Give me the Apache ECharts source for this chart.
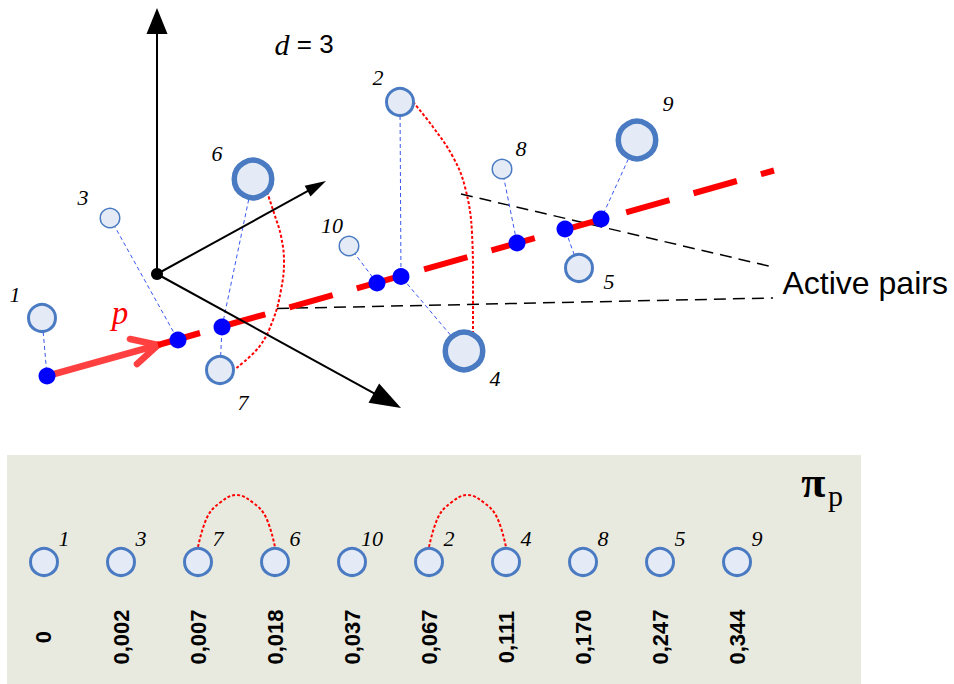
<!DOCTYPE html>
<html><head><meta charset="utf-8">
<script src="https://cdn.jsdelivr.net/npm/echarts@6/dist/echarts.min.js"></script>
<style>html,body{margin:0;padding:0;background:#fff}#c{width:954px;height:684px}</style>
</head><body><div id="c"></div>
<script>
// ---- data (diagram space, y downward) ----
const pointIds = ['1','3','6','7','10','2','4','8','5','9'];
const pointX = [42, 110, 253, 220, 349, 400, 464, 502, 579, 637];
const pointY = [318, 218, 179, 370, 246, 102, 351, 169, 268, 140];
const pointWeight = [2, 1, 3, 2, 1, 2, 3, 1, 2, 3];
const projX = [47, 178, 222, 377, 401, 517, 565, 601];
const projY = [376, 340, 327, 283, 276.5, 243, 229, 219];
const pointProj = [0, 1, 2, 2, 3, 4, 4, 5, 6, 7];
const rankIds = ['1','3','7','6','10','2','4','8','5','9'];
const piValues = ['0','0,002','0,007','0,018','0,037','0,067','0,111','0,170','0,247','0,344'];
const activePairs = [['7','6'], ['2','4']];
const axisOrigin = [157, 274];
const axisTips = [[157, 8], [326, 181], [401, 408]];
const pLineStart = [47, 376];
const pArrowTip = [158, 345];
const pArrowArms = [[130, 339], [137, 364]];
const pSolidEnd = [200, 333];
const pDashStart = [222, 326.5];
const pLineEnd = [774, 170.5];
const arc67 = [[267,192],[274,213],[281,236],[284,262],[281,290],[273,320],[259,347],[235,369]];
const arc24 = [[413,102],[433,127],[453,157],[465,187],[472,233],[473,283],[473,335]];
const pointerLines = [[[461,194],[773,267]], [[277,308.5],[773,298]]];

// ---- layout / style constants ----
const weightStyle = {1:{size:19.5,border:1.5}, 2:{size:27,border:3}, 3:{size:37.5,border:5.5}};
const labelOffset = [[-27,-24],[-27,-21],[-36,-26],[23,32],[-17,-21],[-22,-25],[31,27],[19,-21],[30,13],[31,-37]];
const axisHead = [[26,21],[21,12],[31,22]];
const arcShape = [[0,92],[0.12,62],[0.28,48],[0.5,40],[0.72,48],[0.88,62],[1,92]];
const FILL = '#e4ebf6', EDGE = '#4a7bc2';
const serifItalic = {fontFamily:'Liberation Serif', fontStyle:'italic', fontSize:22, color:'#000'};

const series = [];
// pointer dashed lines
series.push({type:'lines', coordinateSystem:'cartesian2d', xAxisIndex:0, yAxisIndex:0, z:1,
  data: pointerLines.map(c => ({coords:c})),
  lineStyle:{color:'#000', width:1.5, type:[12,7], opacity:1}});
// connectors
series.push({type:'lines', coordinateSystem:'cartesian2d', xAxisIndex:0, yAxisIndex:0, z:2,
  data: pointIds.map((id,i) => ({coords:[[pointX[i],pointY[i]],[projX[pointProj[i]],projY[pointProj[i]]]]})),
  lineStyle:{color:'#3a57f0', width:1, type:[4,3], opacity:1}});
// red dotted arcs top
[arc67, arc24].forEach(a => series.push({type:'line', xAxisIndex:0, yAxisIndex:0, z:3, data:a,
  smooth:0.4, symbol:'none', lineStyle:{color:'#ff0000', width:2, type:[3,2]}}));
// p line
series.push({type:'lines', coordinateSystem:'cartesian2d', xAxisIndex:0, yAxisIndex:0, z:4,
  data:[{coords:[pLineStart,pArrowTip]},{coords:[pArrowTip,pArrowArms[0]]},{coords:[pArrowTip,pArrowArms[1]]}],
  lineStyle:{color:'#ff4040', width:6.5, cap:'round', opacity:1}});
series.push({type:'lines', coordinateSystem:'cartesian2d', xAxisIndex:0, yAxisIndex:0, z:4,
  data:[{coords:[pArrowTip,pSolidEnd]}],
  lineStyle:{color:'#ff0000', width:6, opacity:1}});
series.push({type:'lines', coordinateSystem:'cartesian2d', xAxisIndex:0, yAxisIndex:0, z:4,
  data:[{coords:[pDashStart,pLineEnd]}],
  lineStyle:{color:'#ff0000', width:6, type:[45,25], opacity:1}});
// axes
series.push({type:'custom', coordinateSystem:'cartesian2d', xAxisIndex:0, yAxisIndex:0, z:5,
  data: axisTips.map(t => [axisOrigin[0], axisOrigin[1], t[0], t[1]]),
  encode:{x:[0,2], y:[1,3]},
  renderItem:(params, api) => {
    const s = api.coord([api.value(0), api.value(1)]);
    const t = api.coord([api.value(2), api.value(3)]);
    const [hl, hw] = axisHead[params.dataIndex];
    const dx = t[0]-s[0], dy = t[1]-s[1], L = Math.hypot(dx,dy);
    const ux = dx/L, uy = dy/L, px = -uy, py = ux;
    const bx = t[0]-ux*hl, by = t[1]-uy*hl;
    return {type:'group', children:[
      {type:'line', shape:{x1:s[0],y1:s[1],x2:bx+ux*3,y2:by+uy*3}, style:{stroke:'#000', lineWidth:2}},
      {type:'polygon', shape:{points:[[t[0],t[1]],[bx+px*hw/2,by+py*hw/2],[bx-px*hw/2,by-py*hw/2]]}, style:{fill:'#000'}}
    ]};
  }});
// origin
series.push({type:'scatter', xAxisIndex:0, yAxisIndex:0, z:6, data:[axisOrigin], symbolSize:12, itemStyle:{color:'#000', opacity:1}});
// projection dots
series.push({type:'scatter', xAxisIndex:0, yAxisIndex:0, z:7, data: projX.map((x,i)=>[x,projY[i]]),
  symbolSize:17, itemStyle:{color:'#0000ff', opacity:1}});
// circles
series.push({type:'scatter', xAxisIndex:0, yAxisIndex:0, z:8,
  data: pointIds.map((id,i) => {
    const w = weightStyle[pointWeight[i]];
    return {value:[pointX[i],pointY[i]], name:id, symbolSize:w.size,
      itemStyle:{color:FILL, borderColor:EDGE, borderWidth:w.border, opacity:1},
      label:{show:true, position:'inside', offset:labelOffset[i], formatter:id, ...serifItalic}};
  })});
// texts top
series.push({type:'scatter', xAxisIndex:0, yAxisIndex:0, z:9, symbolSize:1, itemStyle:{color:'rgba(0,0,0,0)', opacity:1},
  data:[
    {value:[274,44], label:{show:true, position:'right', distance:0, formatter:'{d|d}{n| = 3}',
      rich:{d:{fontFamily:'Liberation Serif', fontStyle:'italic', fontSize:30, color:'#000'},
            n:{fontFamily:'Liberation Sans', fontSize:26, color:'#000'}}}},
    {value:[120,313], label:{show:true, position:'inside', formatter:'p',
      fontFamily:'Liberation Serif', fontStyle:'italic', fontSize:33, color:'#ff0000'}},
    {value:[782,283], label:{show:true, position:'right', distance:0, formatter:'Active pairs',
      fontFamily:'Liberation Sans', fontSize:32, color:'#000'}}
  ]});

// ---- bottom panel ----
activePairs.forEach(([a,b]) => {
  const i = rankIds.indexOf(a), j = rankIds.indexOf(b);
  series.push({type:'line', xAxisIndex:1, yAxisIndex:1, z:3, smooth:0.4, symbol:'none',
    data: arcShape.map(p => [i + p[0]*(j-i), p[1]]),
    lineStyle:{color:'#ff0000', width:2, type:[3,2]}});
});
series.push({type:'scatter', xAxisIndex:1, yAxisIndex:1, z:8,
  data: rankIds.map((id,i) => ({value:[i,107], name:id})),
  symbolSize:27, itemStyle:{color:FILL, borderColor:EDGE, borderWidth:3, opacity:1},
  label:{show:true, position:'inside', offset:[20,-24], formatter:p=>p.name, ...serifItalic}});
series.push({type:'scatter', xAxisIndex:1, yAxisIndex:1, z:8,
  data: piValues.map((v,i) => ({value:[i,182], name:v})),
  symbolSize:1, itemStyle:{color:'rgba(0,0,0,0)', opacity:1},
  label:{show:true, position:'inside', rotate:90, align:'center', verticalAlign:'middle',
    formatter:p=>p.name, fontFamily:'Liberation Sans', fontWeight:'bold', fontSize:22, color:'#000'}});
series.push({type:'scatter', xAxisIndex:1, yAxisIndex:1, z:8, symbolSize:1, itemStyle:{color:'rgba(0,0,0,0)', opacity:1},
  data:[
    {value:[9.99,27], label:{show:true, position:'inside', formatter:'π', fontFamily:'Liberation Serif', fontWeight:'bold', fontSize:44, color:'#000'}},
    {value:[10.28,40], label:{show:true, position:'inside', formatter:'p', fontFamily:'Liberation Serif', fontSize:30, color:'#000'}}
  ]});

const chart = echarts.init(document.getElementById('c'), null, {renderer:'svg'});
chart.setOption({
  animation:false,
  grid:[
    {left:0, right:0, top:0, bottom:0, z:1},
    {left:7, right:93, top:455, bottom:0, show:true, backgroundColor:'#e9eadf', borderWidth:0}
  ],
  xAxis:[
    {type:'value', min:0, max:954, show:false, gridIndex:0},
    {type:'value', min:-0.4805, max:10.61, show:false, gridIndex:1}
  ],
  yAxis:[
    {type:'value', min:0, max:684, inverse:true, show:false, gridIndex:0},
    {type:'value', min:0, max:229, inverse:true, show:false, gridIndex:1}
  ],
  series
});
</script></body></html>
